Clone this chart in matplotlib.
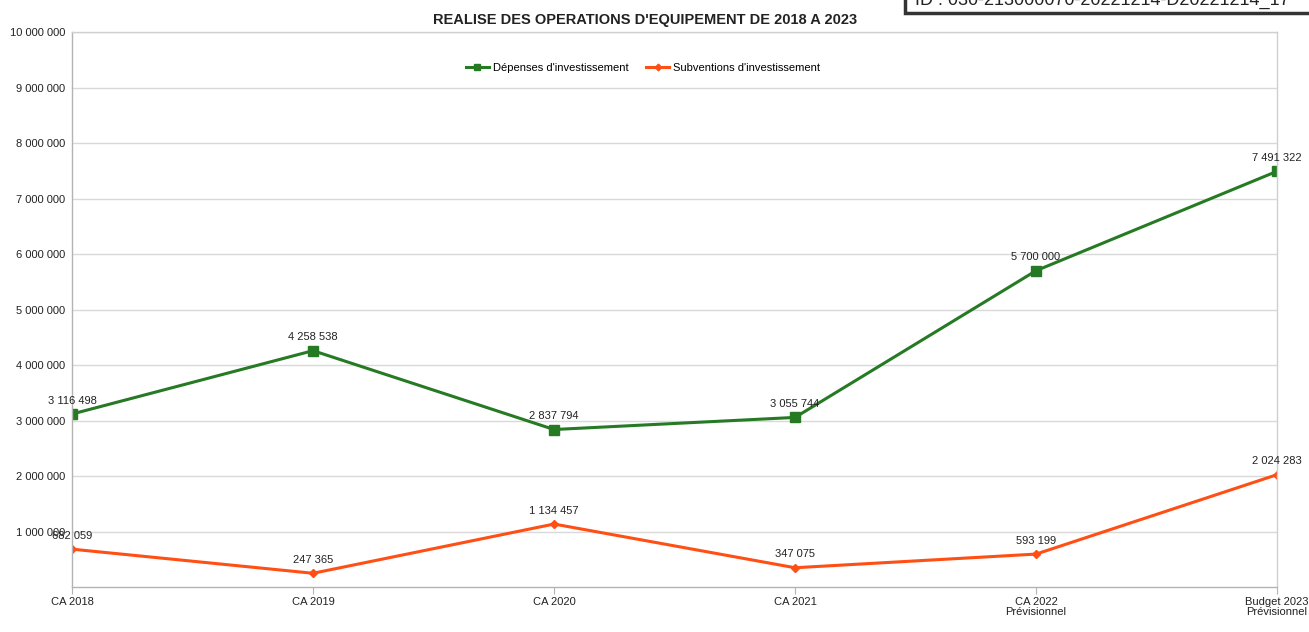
import matplotlib
matplotlib.use("Agg")
import matplotlib.pyplot as plt
from matplotlib.patches import Rectangle

plt.rcParams['font.family'] = ['Liberation Sans', 'DejaVu Sans']

categories = ["CA 2018", "CA 2019", "CA 2020", "CA 2021",
              "CA 2022\nPrévisionnel", "Budget 2023\nPrévisionnel"]
depenses = [3116498, 4258538, 2837794, 3055744, 5700000, 7491322]
subventions = [682059, 247365, 1134457, 347075, 593199, 2024283]
yticks = list(range(1000000, 10000001, 1000000))

green = "#267a23"
orange = "#ff4f14"


def fmt(v):
    return f"{v:,}".replace(",", " ")


fig = plt.figure(figsize=(13.09, 6.32), dpi=100)
ax = fig.add_axes([0.055, 0.0712, 0.9206, 0.8781])

x = range(len(categories))
ax.plot(x, depenses, color=green, linewidth=2.2, marker="s", markersize=6.5,
        label="Dépenses d'investissement")
ax.plot(x, subventions, color=orange, linewidth=2.2, marker="D", markersize=4.5,
        label="Subventions d'investissement")

for xi, v in zip(x, depenses):
    ax.annotate(fmt(v), (xi, v), xytext=(0, 6), textcoords="offset points",
                ha="center", va="bottom", fontsize=8, color="#222222")
for xi, v in zip(x, subventions):
    ax.annotate(fmt(v), (xi, v), xytext=(0, 6), textcoords="offset points",
                ha="center", va="bottom", fontsize=8, color="#222222")

ax.set_xlim(0, len(categories) - 1)
ax.set_ylim(0, 10000000)
ax.set_yticks(yticks)
ax.set_yticklabels([fmt(t) for t in yticks], fontsize=8, color="#222222")
ax.set_xticks(list(x))
ax.set_xticklabels(categories, fontsize=8, color="#222222", linespacing=1.0)
ax.tick_params(axis="y", length=0, pad=5)
ax.tick_params(axis="x", length=5, color="#b3b3b3", pad=2)

ax.grid(axis="y", color="#d9d9d9", linewidth=1)
ax.set_axisbelow(True)
for s in ax.spines.values():
    s.set_color("#d0d0d0")
    s.set_linewidth(1)
ax.spines["left"].set_color("#b3b3b3")
ax.spines["bottom"].set_color("#b3b3b3")

ax.legend(loc="center", bbox_to_anchor=(0.474, 0.9355), ncol=2, frameon=False,
          fontsize=8, handlelength=2.0, columnspacing=1.6, handletextpad=0.4,
          markerscale=0.75)

fig.text(0.4925, 0.968, "REALISE DES OPERATIONS D'EQUIPEMENT DE 2018 A 2023",
         ha="center", va="center", fontsize=10.5, fontweight="bold", color="#222222")

# bandeau tronque en haut a droite
fig.patches.append(Rectangle((905 / 1309, 1 - 13 / 632), 0.4, 0.05,
                             transform=fig.transFigure, fill=True, facecolor="white",
                             edgecolor="#333333", linewidth=2.5, zorder=5))
fig.text(915 / 1309, 1 - 5 / 632, "ID : 030-213000070-20221214-D20221214_17",
         ha="left", va="baseline", fontsize=13, color="#222222", zorder=6)

fig.savefig("out.png", dpi=100, facecolor="white")
